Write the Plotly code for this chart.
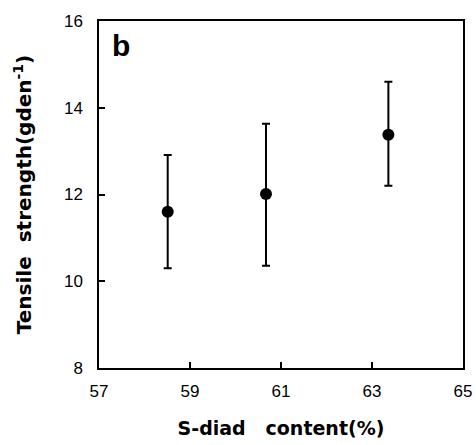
import plotly.graph_objects as go

s_diad = [58.51, 60.67, 63.36]
strength = [11.60, 12.01, 13.38]
err_plus = [1.31, 1.62, 1.22]
err_minus = [1.30, 1.65, 1.18]
x_ticks = [57, 59, 61, 63, 65]
y_ticks = [8, 10, 12, 14, 16]

fig = go.Figure()
fig.add_trace(go.Scatter(
    x=s_diad, y=strength, mode="markers",
    marker=dict(color="black", size=12),
    error_y=dict(type="data", symmetric=False, array=err_plus, arrayminus=err_minus,
                 color="black", thickness=2, width=4),
    showlegend=False,
))

axis_common = dict(showline=True, linecolor="black", linewidth=1.5, mirror=True,
                   ticks="inside", ticklen=6, tickwidth=1.5, tickcolor="black",
                   showgrid=False, zeroline=False, automargin=False,
                   tickfont=dict(family="Liberation Sans", size=17, color="black"))

fig.update_xaxes(range=[57, 65], tickvals=x_ticks, ticklabelstandoff=7,
                 title=dict(text="S-diad   content(%)", standoff=22,
                            font=dict(family="DejaVu Sans", size=19, color="black", weight="bold")),
                 **axis_common)
fig.update_yaxes(range=[8, 16], tickvals=y_ticks, ticklabelstandoff=11,
                 title=dict(text="Tensile  strength(gden<sup>-1</sup>)", standoff=27,
                            font=dict(family="DejaVu Sans", size=20, color="black", weight="bold")),
                 **axis_common)

fig.add_annotation(text="<b>b</b>", x=0.06, y=0.928, xref="paper", yref="paper",
                   xanchor="center", yanchor="middle",
                   showarrow=False, font=dict(family="Liberation Sans", size=30, color="black"))

fig.update_layout(width=476, height=445, margin=dict(l=99, r=13, t=21, b=77),
                  plot_bgcolor="white", paper_bgcolor="white")

fig.write_html("out.html", config={"displayModeBar": False},
               post_script="document.body.style.margin='0';document.body.style.overflow='hidden';")
